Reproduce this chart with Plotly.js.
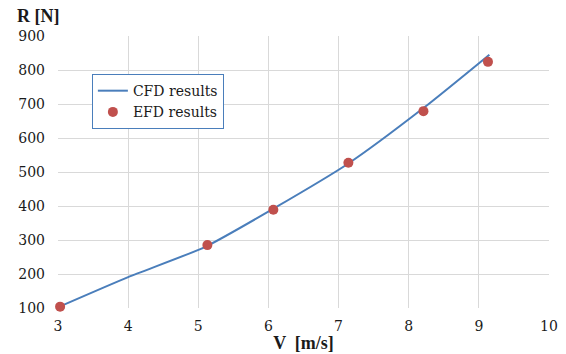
<!DOCTYPE html>
<html><head><meta charset="utf-8">
<script src="https://cdn.plot.ly/plotly-3.0.1.min.js"></script>
<style>html,body{margin:0;padding:0;background:#fff}#c{width:566px;height:354px}</style>
</head><body><div id="c"></div>
<script>
const cfdV = [3.03, 4.0, 5.1, 6.07, 7.14, 8.21, 9.15];
const cfdR = [105, 191, 280, 392, 525, 688, 845];
const efdV = [3.03, 5.13, 6.07, 7.14, 8.21, 9.13];
const efdR = [104, 285, 389, 527, 679, 824];
const xTicks = [3, 4, 5, 6, 7, 8, 9, 10];
const yTicks = [100, 200, 300, 400, 500, 600, 700, 800, 900];

const famB = 'Times New Roman, Liberation Serif, serif';
const fam = 'DejaVu Serif, serif';
const col = '#1a1a1a';
const traces = [
  {x: cfdV, y: cfdR, mode: 'lines', name: 'CFD results', cliponaxis: false,
   line: {color: '#4a7ebb', width: 2, shape: 'spline', smoothing: 0.6}},
  {x: efdV, y: efdR, mode: 'markers', name: 'EFD results', cliponaxis: false,
   marker: {color: '#c0504d', size: 10}}
];
const layout = {
  width: 566, height: 354,
  margin: {l: 58, r: 17, t: 36, b: 46},
  paper_bgcolor: '#fff', plot_bgcolor: '#fff',
  font: {family: fam, size: 14, color: col},
  showlegend: true,
  legend: {x: 0.069, y: 0.86, xanchor: 'left', yanchor: 'top',
    bordercolor: '#4a7ebb', borderwidth: 1, bgcolor: '#fff',
    font: {family: fam, size: 14, color: col},
    itemwidth: 30, tracegroupgap: 0},
  xaxis: {range: [3, 10], tickvals: xTicks, ticktext: xTicks.map(String),
    showgrid: true, gridcolor: '#d9d9d9', gridwidth: 1, zeroline: false,
    showline: false, ticks: '', tickfont: {family: fam, size: 14, color: col}, ticklabelstandoff: 8,
    title: {text: '<b>V  [m/s]</b>', font: {family: famB, size: 18, color: col}, standoff: 3}},
  yaxis: {range: [100, 900], tickvals: yTicks, ticktext: yTicks.map(String),
    showgrid: true, gridcolor: '#d9d9d9', gridwidth: 1, zeroline: false,
    showline: false, ticks: '', tickfont: {family: fam, size: 14, color: col}, ticklabelstandoff: 12},
  annotations: [{xref: 'paper', yref: 'paper', x: -0.088, y: 1.0, yshift: 20,
    xanchor: 'left', yanchor: 'middle', showarrow: false,
    text: '<b>R [N]</b>', font: {family: famB, size: 18, color: col}}]
};
Plotly.newPlot('c', traces, layout, {staticPlot: true});
</script></body></html>
